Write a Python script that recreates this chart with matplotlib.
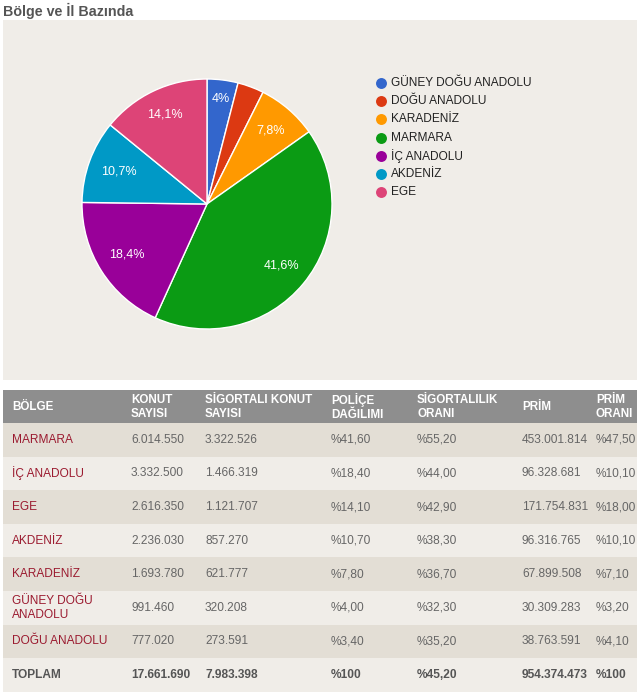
import numpy as np
import matplotlib
matplotlib.use("Agg")
import matplotlib.pyplot as plt
from matplotlib.patches import Rectangle

plt.rcParams['font.family'] = ['Liberation Sans', 'DejaVu Sans']

# table data (table order)
regions = ["MARMARA", "İÇ ANADOLU", "EGE", "AKDENİZ", "KARADENİZ",
           "GÜNEY DOĞU\nANADOLU", "DOĞU ANADOLU"]
konut = [6014550, 3332500, 2616350, 2236030, 1693780, 991460, 777020]
sigortali = [3322526, 1466319, 1121707, 857270, 621777, 320208, 273591]
police = [41.60, 18.40, 14.10, 10.70, 7.80, 4.00, 3.40]
oran = [55.20, 44.00, 42.90, 38.30, 36.70, 32.30, 35.20]
prim = [453001814, 96328681, 171754831, 96316765, 67899508, 30309283, 38763591]
prim_oran = [47.50, 10.10, 18.00, 10.10, 7.10, 3.20, 4.10]
total_oran = 45.20

headers = ["BÖLGE", "KONUT\nSAYISI", "SİGORTALI KONUT\nSAYISI", "POLİÇE\nDAĞILIMI",
           "SİGORTALILIK\nORANI", "PRİM", "PRİM\nORANI"]

# pie / legend order
pie_names = ["GÜNEY DOĞU ANADOLU", "DOĞU ANADOLU", "KARADENİZ", "MARMARA",
             "İÇ ANADOLU", "AKDENİZ", "EGE"]
pie_values = [4.0, 3.4, 7.8, 41.6, 18.4, 10.7, 14.1]
pie_colors = ["#3366cc", "#dc3912", "#ff9900", "#0b9b14", "#990099", "#0099c6", "#dd4477"]
label_r = [0.85, 0.8, 0.78, 0.77, 0.76, 0.75, 0.79]


def tr_int(v):
    return f"{v:,}".replace(",", ".")


def tr_pct(v):
    return "%" + f"{v:.2f}".replace(".", ",")


W, H = 640, 695
fig = plt.figure(figsize=(W / 100, H / 100), dpi=100)
bg = fig.add_axes([0, 0, 1, 1])
bg.set_xlim(0, W)
bg.set_ylim(H, 0)
bg.axis("off")

bg.text(3, 11, "Bölge ve İl Bazında", fontsize=10.3, fontweight="bold",
        color="#555555", va="center", ha="left")
bg.add_patch(Rectangle((3, 20), 634, 360, color="#f0ede8", lw=0))

# legend
for i, (name, c) in enumerate(zip(pie_names, pie_colors)):
    y = 83 + i * 18.2
    bg.scatter([381], [y], s=62, color=c, zorder=3, linewidths=0)
    bg.text(391, y, name, fontsize=8.6, color="#222222", va="center", ha="left")

# pie
cx, cy, r = 207, 204, 125
pax = fig.add_axes([(cx - r) / W, 1 - (cy + r) / H, 2 * r / W, 2 * r / H])
wedges, _ = pax.pie(pie_values, colors=pie_colors, startangle=90, counterclock=False,
                    wedgeprops=dict(edgecolor="white", linewidth=1))
pax.set_xlim(-1, 1)
pax.set_ylim(-1, 1)
pax.set_aspect("equal")
for w, v, lr in zip(wedges, pie_values, label_r):
    if v < 4:
        continue
    ang = np.deg2rad((w.theta1 + w.theta2) / 2)
    txt = f"{v:g}".replace(".", ",") + "%"
    pax.text(lr * np.cos(ang), lr * np.sin(ang), txt, color="white", fontsize=9,
             ha="center", va="center")

# table
col_x = [12, 131, 205, 331, 417, 522, 596]
x0, x1 = 3, 637
bg.add_patch(Rectangle((x0, 390), x1 - x0, 33, color="#8e8e8e", lw=0))
for x, h in zip(col_x, headers):
    bg.text(x, 407, h, fontsize=8.4, fontweight="bold", color="white",
            va="center", ha="left", linespacing=1.15)

row_h = 33.6
rows = []
for i in range(len(regions)):
    rows.append([regions[i], tr_int(konut[i]), tr_int(sigortali[i]), tr_pct(police[i]),
                 tr_pct(oran[i]), tr_int(prim[i]), tr_pct(prim_oran[i])])
rows.append(["TOPLAM", tr_int(sum(konut)), tr_int(sum(sigortali)), "%100",
             tr_pct(total_oran), tr_int(sum(prim)), "%100"])

for i, row in enumerate(rows):
    top = 423 + i * row_h
    shade = "#e3ded5" if i % 2 == 0 else "#f0ede8"
    bg.add_patch(Rectangle((x0, top), x1 - x0, row_h, color=shade, lw=0))
    yc = top + row_h / 2
    last = i == len(rows) - 1
    for j, (x, val) in enumerate(zip(col_x, row)):
        if last:
            color, weight = "#555555", "bold"
        elif j == 0:
            color, weight = "#9b1b30", "normal"
        else:
            color, weight = "#666666", "normal"
        bg.text(x, yc, val, fontsize=8.6, color=color, fontweight=weight,
                va="center", ha="left", linespacing=1.2)

fig.savefig("out.png", dpi=100)
